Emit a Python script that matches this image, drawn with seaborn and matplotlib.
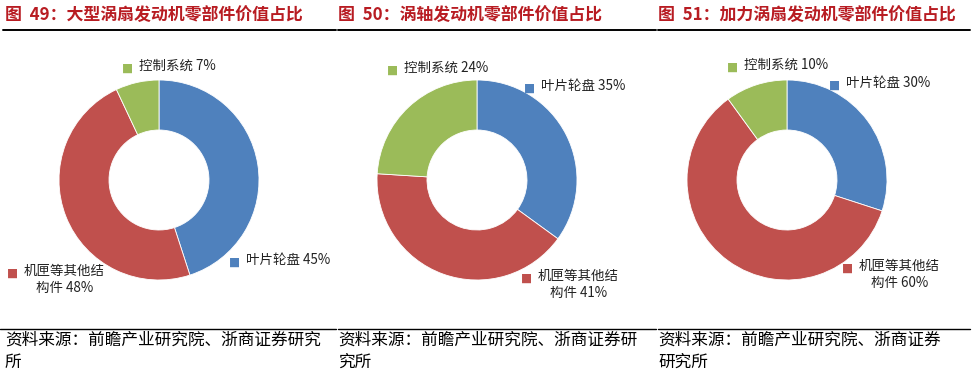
import matplotlib
matplotlib.use("Agg")
import matplotlib.pyplot as plt
from matplotlib.lines import Line2D
import seaborn as sns

# ---- data ----
parts = ["叶片轮盘", "机匣等其他结\n构件", "控制系统"]
share_large_turbofan = [45, 48, 7]
share_turboshaft = [35, 41, 24]
share_augmented_turbofan = [30, 60, 10]
titles = [
    "图  49：大型涡扇发动机零部件价值占比",
    "图  50：涡轴发动机零部件价值占比",
    "图  51：加力涡扇发动机零部件价值占比",
]
sources = [
    "资料来源：前瞻产业研究院、浙商证券研究\n所",
    "资料来源：前瞻产业研究院、浙商证券研\n究所",
    "资料来源：前瞻产业研究院、浙商证券\n研究所",
]

# ---- layout / style ----
W, H = 974, 379
colors = ["#4F81BD", "#C0504D", "#9BBB59"]
title_color = "#B81C22"
font = ["Noto Sans CJK SC", "DejaVu Sans"]
panel_x = [5, 338, 658]          # left edge of title / source text, px
pie_cx = [159, 477, 787]         # pie centre, px
pie_cy = 180
pie_r = 100
# label key-square positions in pie units (radius = 1), same order as parts
label_pos = [
    [(0.76, -0.82), (-1.46, -0.93), (-0.31, 1.12)],
    [(0.53, 0.92), (0.50, -0.98), (-0.84, 1.10)],
    [(0.48, 0.95), (0.61, -0.88), (-0.54, 1.13)],
]

sns.set_theme(style="white")
plt.rcParams["font.family"] = font

fig = plt.figure(figsize=(W / 100, H / 100), dpi=100)
fig.patch.set_facecolor("white")

series = [share_large_turbofan, share_turboshaft, share_augmented_turbofan]
box = 2.5 * pie_r
for i, vals in enumerate(series):
    ax = fig.add_axes([(pie_cx[i] - box / 2) / W, (H - pie_cy - box / 2) / H,
                       box / W, box / H])
    ax.pie(vals, colors=colors, startangle=90, counterclock=False,
           radius=1.0, wedgeprops=dict(width=0.5, edgecolor="white", linewidth=0.6))
    ax.set_xlim(-1.25, 1.25)
    ax.set_ylim(-1.25, 1.25)
    ax.set_aspect("equal")
    ax.axis("off")
    for name, v, c, (lx, ly) in zip(parts, vals, colors, label_pos[i]):
        ax.text(lx, ly, "■", color=c, fontsize=8.5, ha="center", va="center",
                family="DejaVu Sans", clip_on=False)
        ax.text(lx + 0.11, ly + 0.095, f"{name} {v}%", fontsize=9.7, color="#222222",
                ha="left", va="top", multialignment="center",
                linespacing=1.35, clip_on=False)

    fig.text(panel_x[i] / W, 1 - 15 / H, titles[i], color=title_color,
             fontsize=12.2, fontweight="bold", ha="left", va="center")
    fig.text(panel_x[i] / W, 1 - 332 / H, sources[i], color="black",
             fontsize=12, ha="left", va="top", linespacing=1.4)

# header / footer rules
for x0, x1 in [(3, 336), (338, 656), (658, 970)]:
    fig.add_artist(Line2D([x0 / W, x1 / W], [1 - 30 / H] * 2, color="black", lw=1.4))
for x0, x1 in [(0, 336), (338, 656), (658, 970)]:
    fig.add_artist(Line2D([x0 / W, x1 / W], [1 - 329 / H] * 2, color="black", lw=1.0))

fig.savefig("out.png", dpi=100, facecolor="white")
